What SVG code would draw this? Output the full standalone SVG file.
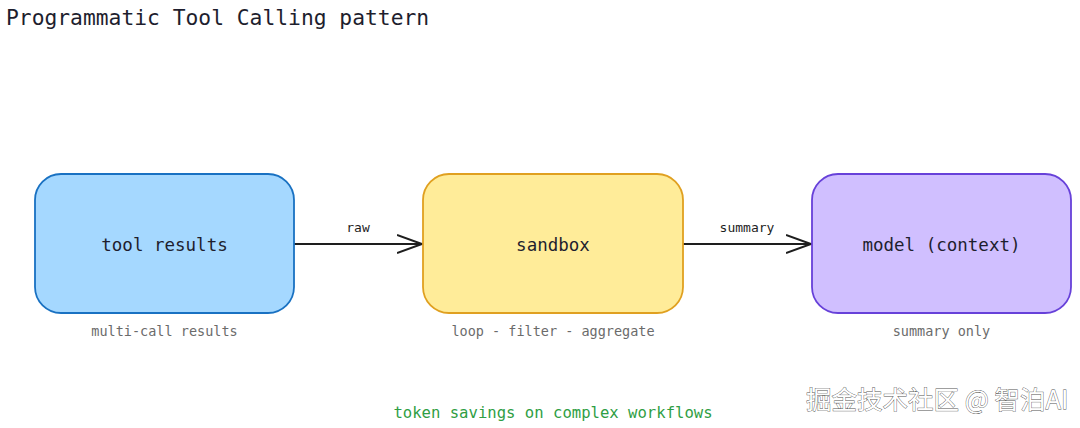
<svg xmlns="http://www.w3.org/2000/svg" width="1080" height="428" viewBox="0 0 1080 428">
<style>
text{font-family:"DejaVu Sans Mono","Liberation Mono",monospace}
.title{font-size:21.3px;fill:#1e1e2e}
.node{stroke-width:1.8}
.lbl{font-size:17.5px;fill:#1e1e2e;text-anchor:middle}
.sub{font-size:13.5px;fill:#6b6b6b;text-anchor:middle}
.edge{stroke:#1e1e1e;stroke-width:2;fill:none}
.elbl{font-size:13px;fill:#1e1e1e;text-anchor:middle}
.note{font-size:15.6px;fill:#2f9e44;text-anchor:middle}
.wm{font-family:"Noto Sans CJK SC","Noto Sans",sans-serif;font-size:25.5px;fill:#ffffff;stroke:#555;stroke-width:0.8;paint-order:stroke}
</style>
<defs>
<marker id="arr" markerWidth="30" markerHeight="24" refX="25" refY="10" orient="auto" markerUnits="userSpaceOnUse">
<path d="M0,1 L25,10 L0,19" fill="none" stroke="#1e1e1e" stroke-width="2"/>
</marker>
</defs>
<rect width="1080" height="428" fill="#ffffff"/>
<text class="title" x="6" y="25">Programmatic Tool Calling pattern</text>
<g id="connectors">
<line class="edge" x1="294" y1="244" x2="422" y2="244" marker-end="url(#arr)"/>
<text class="elbl" x="358" y="232">raw</text>
<line class="edge" x1="683" y1="244" x2="811" y2="244" marker-end="url(#arr)"/>
<text class="elbl" x="747" y="232">summary</text>
</g>
<g id="tool-results">
<rect class="node" x="35" y="174" width="259" height="139" rx="26" fill="#a5d8ff" stroke="#1971c2"/>
<text class="lbl" x="164.5" y="251">tool results</text>
<text class="sub" x="164.5" y="336">multi-call results</text>
</g>
<g id="sandbox">
<rect class="node" x="423" y="174" width="260" height="139" rx="26" fill="#ffec99" stroke="#e0a020"/>
<text class="lbl" x="553" y="251">sandbox</text>
<text class="sub" x="553" y="336">loop - filter - aggregate</text>
</g>
<g id="model">
<rect class="node" x="812" y="174" width="259" height="139" rx="26" fill="#d0bfff" stroke="#6741d9"/>
<text class="lbl" x="941.5" y="251">model (context)</text>
<text class="sub" x="941.5" y="336">summary only</text>
</g>
<text class="note" x="553" y="418">token savings on complex workflows</text>
<text class="wm" x="806" y="409">掘金技术社区 @ 智泊AI</text>
</svg>
